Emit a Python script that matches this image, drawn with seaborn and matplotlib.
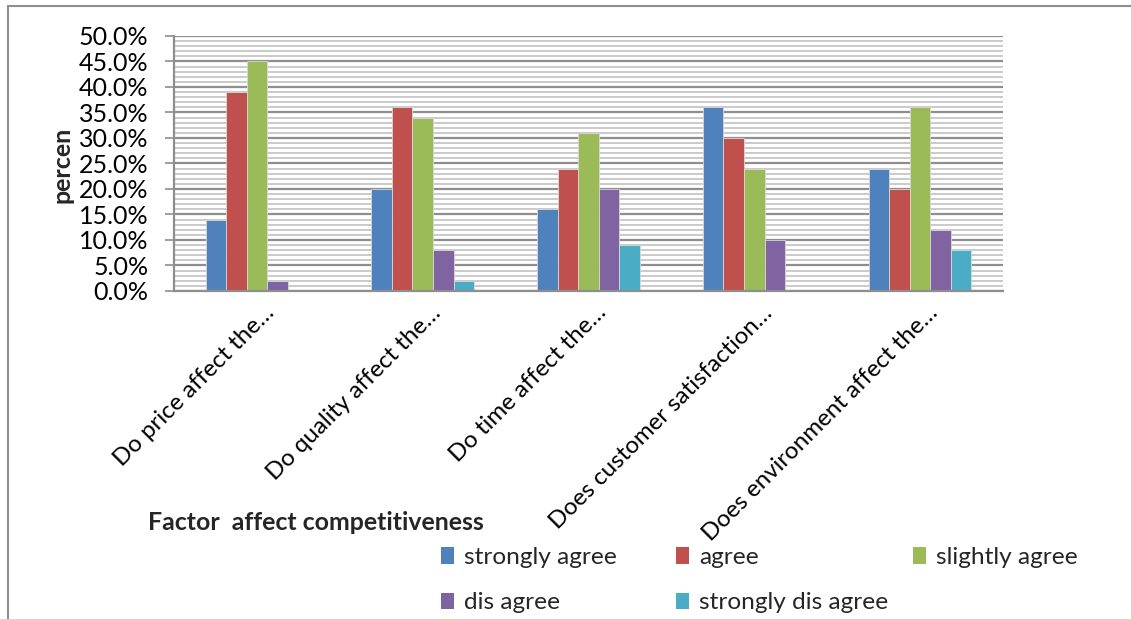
import numpy as np
import pandas as pd
import matplotlib
matplotlib.use("Agg")
import matplotlib.pyplot as plt
import matplotlib.transforms as mtrans
from matplotlib.ticker import MultipleLocator, FuncFormatter
from matplotlib.patches import Patch
from matplotlib.lines import Line2D
import seaborn as sns

categories = ["Do price affect the\u2026", "Do quality affect the\u2026", "Do time affect the\u2026",
              "Does customer satisfaction\u2026", "Does environment affect the\u2026"]
series = ["strongly agree", "agree", "slightly agree", "dis agree", "strongly dis agree"]
strongly_agree = [14, 20, 16, 36, 24]
agree = [39, 36, 24, 30, 20]
slightly_agree = [45, 34, 31, 24, 36]
dis_agree = [2, 8, 20, 10, 12]
strongly_dis_agree = [0, 2, 9, 0, 8]
colors = ["#4F81BD", "#C0504D", "#9BBB59", "#8064A2", "#4BACC6"]
y_ticks = [0, 5, 10, 15, 20, 25, 30, 35, 40, 45, 50]

sns.set_theme(style="white")
plt.rcParams["font.family"] = ["Lato", "DejaVu Sans"]

values = [strongly_agree, agree, slightly_agree, dis_agree, strongly_dis_agree]
rows = []
for s, vals in zip(series, values):
    for c, v in zip(categories, vals):
        rows.append({"category": c, "series": s, "value": v})
df = pd.DataFrame(rows)

W, H = 1131, 619
fig = plt.figure(figsize=(W / 100, H / 100), dpi=100)
ax = fig.add_axes([174 / W, 1 - 291 / H, (1003 - 174) / W, (291 - 36) / H])

sns.barplot(data=df, x="category", y="value", hue="series", hue_order=series, order=categories,
            palette=colors, saturation=1, width=0.62, gap=0, ax=ax, legend=False,
            edgecolor="#d8d8d8", linewidth=0.6)

ax.set_xlim(-0.5, 4.5)
ax.set_ylim(0, 50)
ax.set_yticks(y_ticks)
ax.yaxis.set_major_formatter(FuncFormatter(lambda v, p: f"{v:.1f}%"))
ax.yaxis.set_minor_locator(MultipleLocator(1))
ax.set_axisbelow(True)
ax.grid(which="minor", axis="y", color="#c6c6c6", lw=1.3)
ax.grid(which="major", axis="y", color="#8e8e8e", lw=1.6)
ax.grid(which="major", axis="x", visible=False)
for side in ["top", "right"]:
    ax.spines[side].set_visible(False)
for side in ["left", "bottom"]:
    ax.spines[side].set_color("#8e8e8e")
    ax.spines[side].set_linewidth(1.6)
ax.tick_params(axis="y", which="major", direction="out", length=6.5, width=1.2, color="#8e8e8e",
               labelsize=18, pad=12, left=True, labelcolor="black")
ax.tick_params(axis="y", which="minor", length=0)
ax.tick_params(axis="x", length=0, pad=0, labelsize=17.3, labelcolor="black")
ax.set_xlabel("")
ax.set_ylabel("")

offset = mtrans.ScaledTranslation(19 / 100, -23 / 100, fig.dpi_scale_trans)
for lab in ax.get_xticklabels():
    lab.set_rotation(45)
    lab.set_rotation_mode("anchor")
    lab.set_ha("right")
    lab.set_va("baseline")
    lab.set_transform(lab.get_transform() + offset)

fig.text(62 / W, 1 - 165 / H, "percen", rotation=90, fontweight="bold", fontsize=18,
         ha="center", va="center")
fig.text(148 / W, 1 - 522 / H, "Factor  affect competitiveness", fontweight="bold", fontsize=17.9,
         ha="left", va="center")

handles = [Patch(facecolor=c, edgecolor="none") for c in colors]
legend_cols = [([0, 3], 441), ([1, 4], 676), ([2], 913)]
for idx, xpos in legend_cols:
    leg = fig.legend([handles[i] for i in idx], [series[i] for i in idx],
                     loc="upper left", bbox_to_anchor=(xpos / W, 1 - 547 / H),
                     frameon=False, fontsize=17.6, borderpad=0, borderaxespad=0,
                     handlelength=0.55, handleheight=0.65, handletextpad=0.4,
                     labelspacing=1.0)

# outer chart border
fig.add_artist(Line2D([8 / W, 8 / W], [0, 1 - 6 / H], transform=fig.transFigure, color="#8e8e8e", lw=1.5))
fig.add_artist(Line2D([8 / W, 1], [1 - 6 / H, 1 - 6 / H], transform=fig.transFigure, color="#8e8e8e", lw=1.5))

fig.savefig("out.png", dpi=100)
